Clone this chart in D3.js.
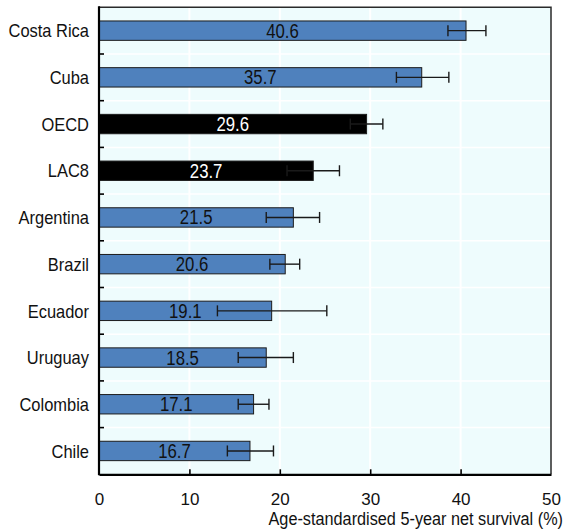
<!DOCTYPE html>
<html>
<head>
<meta charset="utf-8">
<script src="https://cdn.jsdelivr.net/npm/d3@7"></script>
<style>
  body { margin: 0; background: #fff; }
  svg text { font-family: "Liberation Sans", Arial, sans-serif; }
</style>
</head>
<body>
<div id="chart"></div>
<script>
const countries = ["Costa Rica", "Cuba", "OECD", "LAC8", "Argentina", "Brazil", "Ecuador", "Uruguay", "Colombia", "Chile"];
const survival = [40.6, 35.7, 29.6, 23.7, 21.5, 20.6, 19.1, 18.5, 17.1, 16.7];
const ciLow = [38.6, 32.9, 27.8, 20.8, 18.5, 18.9, 13.1, 15.4, 15.4, 14.2];
const ciHigh = [42.8, 38.7, 31.4, 26.6, 24.4, 22.2, 25.2, 21.5, 18.8, 19.3];
const aggregates = ["OECD", "LAC8"];
const xTicks = [0, 10, 20, 30, 40, 50];
const xTitle = "Age-standardised 5-year net survival (%)";

const W = 567, H = 532;
const plotL = 99, plotR = 551, plotT = 7.3, plotB = 474.3;

const data = countries.map((c, i) => ({ name: c, value: survival[i], lo: ciLow[i], hi: ciHigh[i] }));

const svg = d3.select("#chart").append("svg").attr("width", W).attr("height", H);

const x = d3.scaleLinear().domain([0, 50]).range([plotL, plotR]);
const y = d3.scaleBand().domain(countries).range([plotT, plotB]).paddingInner(0.585).paddingOuter(0.2925);
const cy = name => y(name) + y.bandwidth() / 2;

// plot background
svg.append("rect")
  .attr("x", plotL).attr("y", plotT).attr("width", plotR - plotL).attr("height", plotB - plotT)
  .attr("fill", "#eefcfd");

// white gridlines
svg.append("g").selectAll("line").data(xTicks.slice(1, -1)).join("line")
  .attr("x1", d => x(d)).attr("x2", d => x(d)).attr("y1", plotT).attr("y2", plotB)
  .attr("stroke", "#fff").attr("stroke-width", 2);

const step = y.step();
const boundaries = countries.slice(1).map(c => y(c) - step * y.paddingInner() / 2);
svg.append("g").selectAll("line").data(boundaries).join("line")
  .attr("x1", plotL).attr("x2", plotR).attr("y1", d => d).attr("y2", d => d)
  .attr("stroke", "#fff").attr("stroke-width", 1.5);

// frame top / right
svg.append("path")
  .attr("d", `M${plotL},${plotT}H${plotR}V${plotB}`)
  .attr("fill", "none").attr("stroke", "#2a2a2a").attr("stroke-width", 1.5);

// bars
svg.append("g").selectAll("rect").data(data).join("rect")
  .attr("x", x(0)).attr("y", d => y(d.name))
  .attr("width", d => x(d.value) - x(0)).attr("height", y.bandwidth())
  .attr("fill", d => aggregates.includes(d.name) ? "#000" : "#4f81bd")
  .attr("stroke", "#1c1c1c").attr("stroke-width", 1);

// error bars
const eb = svg.append("g").attr("stroke", "#1a1a1a").attr("stroke-width", 1.4);
data.forEach(d => {
  const yc = cy(d.name);
  const cap = 5.5;
  eb.append("line").attr("x1", x(d.lo)).attr("x2", x(d.hi)).attr("y1", yc).attr("y2", yc);
  eb.append("line").attr("x1", x(d.lo)).attr("x2", x(d.lo)).attr("y1", yc - cap).attr("y2", yc + cap);
  eb.append("line").attr("x1", x(d.hi)).attr("x2", x(d.hi)).attr("y1", yc - cap).attr("y2", yc + cap);
});

// value labels (narrow look)
svg.append("g").selectAll("text").data(data).join("text")
  .attr("transform", d => `translate(${(x(0) + x(d.value)) / 2},${cy(d.name)}) scale(0.86,1)`)
  .attr("dy", "0.36em")
  .attr("text-anchor", "middle")
  .attr("font-size", 19.5)
  .attr("fill", d => aggregates.includes(d.name) ? "#fff" : "#111")
  .text(d => d.value.toFixed(1));

// y axis
const yAxis = svg.append("g").attr("transform", `translate(${plotL},0)`);
yAxis.append("line").attr("x1", 0).attr("x2", 0).attr("y1", plotT - 1).attr("y2", plotB + 1)
  .attr("stroke", "#000").attr("stroke-width", 2.2);
yAxis.selectAll(".bt").data(boundaries).join("line").attr("class", "bt")
  .attr("x1", 0).attr("x2", 5).attr("y1", d => d).attr("y2", d => d)
  .attr("stroke", "#000").attr("stroke-width", 1.6);
yAxis.selectAll(".lbl").data(countries).join("text").attr("class", "lbl")
  .attr("transform", d => `translate(-10,${cy(d)}) scale(0.89,1)`)
  .attr("dy", "0.36em")
  .attr("text-anchor", "end").attr("font-size", 18.5).attr("fill", "#111")
  .text(d => d);

// x axis
const xAxis = svg.append("g").attr("transform", `translate(0,${plotB})`)
  .call(d3.axisBottom(x).tickValues(xTicks).tickSizeInner(-5).tickSizeOuter(0).tickPadding(19).tickFormat(d3.format("d")));
xAxis.attr("font-family", null).attr("font-size", null);
xAxis.select(".domain").attr("stroke", "#000").attr("stroke-width", 2.2);
xAxis.selectAll(".tick line").attr("stroke", "#000").attr("stroke-width", 1.6)
  .filter(d => d === 0 || d === 50).remove();
xAxis.selectAll(".tick text").attr("font-size", 17).attr("fill", "#111");

svg.append("text")
  .attr("transform", "translate(563,525) scale(0.93,1)")
  .attr("text-anchor", "end").attr("font-size", 17.5).attr("fill", "#111")
  .text(xTitle);
</script>
</body>
</html>
